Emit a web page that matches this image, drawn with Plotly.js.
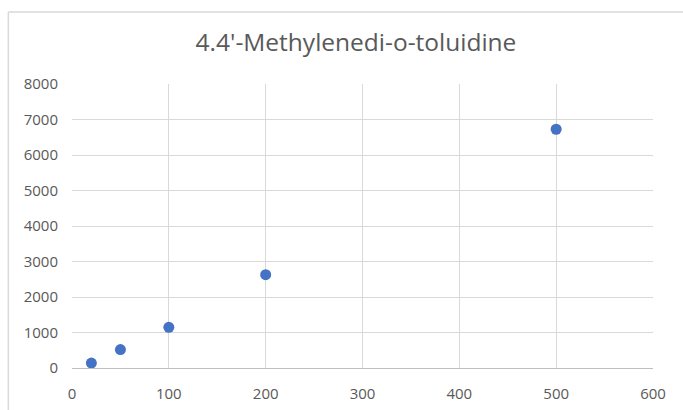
<!DOCTYPE html>
<html>
<head>
<meta charset="utf-8">
<script src="https://cdn.plot.ly/plotly-3.0.1.min.js"></script>
<style>
html,body{margin:0;padding:0;background:#fff;}
#chart{width:683px;height:410px;}
</style>
</head>
<body>
<div id="chart"></div>
<script>
var xValues = [20, 50, 100, 200, 500];
var yValues = [140, 520, 1145, 2630, 6725];
var chartTitle = "4.4'-Methylenedi-o-toluidine";

var L = 71.7, R = 29.7, T = 84, B = 41.7;
var W = 683, H = 410;
var pw = W - L - R, ph = H - T - B;
function px2x(px){ return (px - L) / pw; }
function py2y(py){ return (H - B - py) / ph; }

var trace = {
  x: xValues,
  y: yValues,
  type: 'scatter',
  mode: 'markers',
  marker: {color: '#4472C4', size: 11},
  hoverinfo: 'x+y'
};

var layout = {
  width: W, height: H,
  margin: {l: L, r: R, t: T, b: B, pad: 0},
  paper_bgcolor: '#ffffff',
  plot_bgcolor: '#ffffff',
  showlegend: false,
  font: {family: 'Open Sans, sans-serif', color: '#595959'},
  title: {
    text: chartTitle,
    font: {family: 'Open Sans, sans-serif', size: 24.5, color: '#595959'},
    x: px2x(356), xref: 'paper', xanchor: 'center',
    y: py2y(46), yref: 'paper', yanchor: 'middle'
  },
  xaxis: {
    range: [0, 600], dtick: 100, tick0: 0,
    showgrid: true, gridcolor: '#d9d9d9', gridwidth: 1,
    zeroline: false,
    showline: true, linecolor: '#bfbfbf', linewidth: 1,
    ticks: '', ticklen: 0,
    ticklabelstandoff: 12,
    tickfont: {family: 'Open Sans, sans-serif', size: 15, color: '#595959'},
    fixedrange: true
  },
  yaxis: {
    range: [0, 8000], dtick: 1000, tick0: 0,
    showgrid: true, gridcolor: '#d9d9d9', gridwidth: 1,
    zeroline: false,
    showline: false,
    ticks: '', ticklen: 0,
    ticklabelstandoff: 13,
    tickfont: {family: 'Open Sans, sans-serif', size: 15, color: '#595959'},
    fixedrange: true
  },
  shapes: [
    {type: 'line', xref: 'paper', yref: 'paper',
     x0: px2x(8), x1: px2x(8), y0: py2y(12), y1: py2y(420),
     line: {color: '#d9d9d9', width: 1.5}},
    {type: 'line', xref: 'paper', yref: 'paper',
     x0: px2x(8), x1: px2x(700), y0: py2y(12), y1: py2y(12),
     line: {color: '#d9d9d9', width: 1.5}}
  ]
};

Plotly.newPlot('chart', [trace], layout, {displayModeBar: false, staticPlot: true});
</script>
</body>
</html>
